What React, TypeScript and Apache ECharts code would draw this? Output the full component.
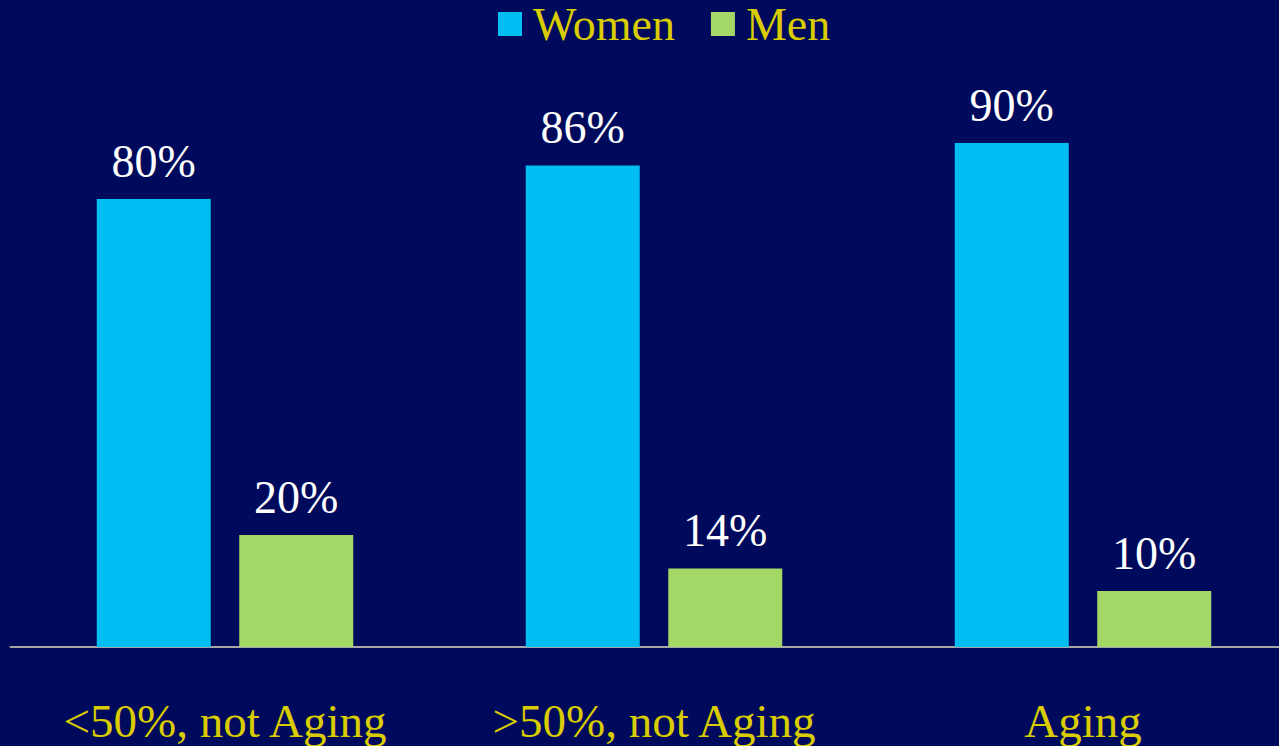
import React, { useEffect, useRef } from "react";
import * as echarts from "echarts";

const categories = ["<50%, not Aging", ">50%, not Aging", "Aging"];
const women = [80, 86, 90];
const men = [20, 14, 10];
const seriesNames = ["Women", "Men"];

export default function App() {
  const ref = useRef<HTMLDivElement>(null);
  useEffect(() => {
    if (!ref.current) return;
    const chart = echarts.init(ref.current, null, { renderer: "svg" });
    const font = "Liberation Serif";
    const labelStyle = {
      show: true,
      position: "top" as const,
      distance: 15,
      color: "#FFFFFF",
      fontSize: 46,
      fontFamily: font,
      formatter: (p: any) => p.value + "%",
    };
    chart.setOption({
      animation: false,
      backgroundColor: "#000A5C",
      textStyle: { fontFamily: font },
      legend: {
        left: 493,
        top: -4,
        itemWidth: 24,
        itemHeight: 24,
        itemGap: 36,
        icon: "rect",
        data: seriesNames,
        textStyle: {
          color: "#D9CC00",
          fontSize: 46,
          fontFamily: font,
          padding: [0, 0, 0, 6],
        },
      },
      grid: {
        left: 10.5,
        width: 1287,
        top: 87,
        bottom: 99,
        containLabel: false,
        outerBoundsMode: "none",
      },
      xAxis: {
        type: "category",
        data: categories,
        axisLine: { show: true, lineStyle: { color: "#A6A6A6", width: 2 } },
        axisTick: { show: false },
        axisLabel: {
          color: "#D9CC00",
          fontSize: 47,
          fontFamily: font,
          margin: 50,
          interval: 0,
        },
      },
      yAxis: {
        type: "value",
        min: 0,
        max: 100,
        show: false,
        splitLine: { show: false },
      },
      series: [
        {
          name: seriesNames[0],
          type: "bar",
          data: women,
          barWidth: 114,
          barGap: "25%",
          itemStyle: { color: "#00BEF2" },
          label: labelStyle,
        },
        {
          name: seriesNames[1],
          type: "bar",
          data: men,
          barWidth: 114,
          itemStyle: { color: "#A3D866" },
          label: labelStyle,
        },
      ],
    });
    return () => chart.dispose();
  }, []);
  return (
    <div
      ref={ref}
      style={{ position: "absolute", left: 0, top: 0, width: 1279, height: 746 }}
    />
  );
}
